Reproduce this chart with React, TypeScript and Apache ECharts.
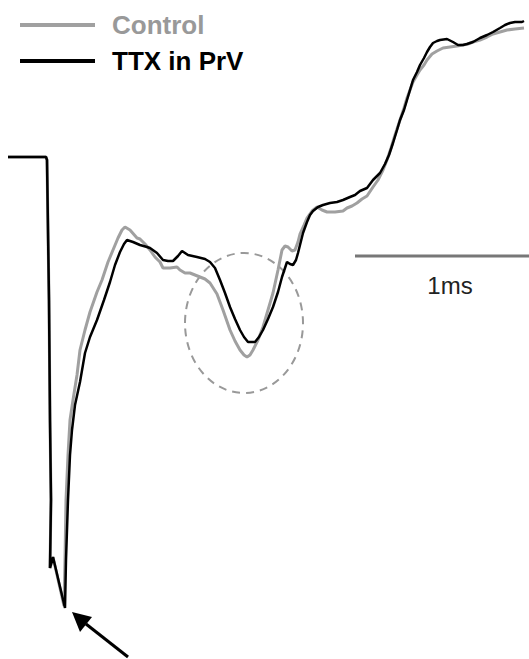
import React, { useEffect, useRef } from "react";
import * as echarts from "echarts";

// Trace samples: [time (px units), potential (px units, downward positive)]
const controlTrace: [number, number][] = [
  [8,157],[46,157],[47,160],[49,300],[50,420],[51,500],[50,568],[53,557],[64,606],[65,560],[66,500],[68,455],[70,420],[73,400],[77,375],[80,350],[85,330],[90,312],[97,292],[102,280],[108,262],[113,250],[118,238],[122,230],[125,227],[130,230],[137,238],[140,239],[145,244],[150,250],[155,257],[160,262],[163,268],[170,268],[177,267],[180,270],[185,273],[190,273],[195,275],[200,277],[205,279],[210,283],[217,294],[223,310],[230,330],[235,341],[240,350],[244,355],[247,357],[250,355],[253,350],[258,340],[263,327],[268,310],[273,293],[278,270],[282,250],[285,246],[288,247],[292,251],[295,250],[298,242],[300,234],[304,225],[307,218],[312,211],[317,207],[322,210],[327,212],[335,212],[343,211],[347,208],[352,206],[357,203],[362,199],[367,196],[373,187],[378,180],[383,170],[387,160],[391,148],[395,135],[400,120],[404,108],[407,98],[410,90],[413,82],[417,75],[420,70],[424,65],[427,60],[432,54],[437,51],[443,48],[450,47],[457,46],[463,45],[468,44],[473,42],[480,40],[487,37],[493,34],[500,32],[507,30],[515,29],[524,28]
];

const ttxTrace: [number, number][] = [
  [8,157],[46,157],[47,160],[49,300],[50,420],[51,500],[50,568],[53,557],[65,608],[66,560],[68,500],[70,455],[72,430],[75,405],[80,382],[85,353],[90,337],[97,320],[104,300],[110,282],[115,265],[120,252],[124,244],[127,240],[133,242],[140,245],[147,247],[150,248],[157,253],[163,260],[168,261],[173,261],[178,256],[182,251],[188,255],[197,257],[205,259],[210,262],[215,268],[220,280],[225,293],[230,307],[235,319],[240,330],[244,337],[248,342],[255,342],[259,337],[263,330],[268,319],[273,307],[278,292],[282,277],[287,262],[290,264],[293,265],[296,260],[298,253],[300,245],[303,233],[307,222],[310,215],[313,211],[318,207],[323,205],[330,203],[337,202],[343,200],[350,197],[355,195],[360,191],[367,188],[373,180],[377,176],[380,173],[385,164],[389,155],[393,143],[397,130],[400,120],[404,110],[407,100],[410,90],[413,80],[417,72],[420,65],[424,58],[427,52],[430,47],[433,43],[437,41],[440,40],[447,39],[453,42],[458,45],[463,45],[467,44],[473,42],[480,38],[487,35],[493,32],[500,28],[505,25],[510,23],[515,22],[522,22],[524,21]
];

const seriesNames = ["Control", "TTX in PrV"];
const seriesColors = ["#a0a0a0", "#000000"];
const scaleBarLabel = "1ms";

export default function App() {
  const ref = useRef<HTMLDivElement>(null);
  useEffect(() => {
    document.body.style.margin = "0";
    if (!ref.current) return;
    const chart = echarts.init(ref.current, undefined, { renderer: "svg" });
    chart.setOption({
      animation: false,
      backgroundColor: "#ffffff",
      grid: { left: 0, right: 0, top: 0, bottom: 0, containLabel: false },
      xAxis: { type: "value", min: 0, max: 529, show: false },
      yAxis: { type: "value", min: 0, max: 659, inverse: true, show: false },
      legend: {
        orient: "vertical",
        left: 15,
        top: 6,
        itemWidth: 75,
        itemHeight: 4,
        itemGap: 8,
        icon: "rect",
        textStyle: {
          fontSize: 26,
          fontWeight: "bold",
          fontFamily: "Liberation Sans, Arial, sans-serif",
          lineHeight: 28,
          padding: [0, 0, 0, 12],
        },
        data: [
          { name: seriesNames[0], textStyle: { color: "#999999" } },
          { name: seriesNames[1], textStyle: { color: "#000000" } },
        ],
      },
      series: [
        {
          name: seriesNames[0],
          type: "line",
          data: controlTrace,
          showSymbol: false,
          symbol: "none",
          color: seriesColors[0],
          lineStyle: { width: 3, color: seriesColors[0] },
          z: 1,
        },
        {
          name: seriesNames[1],
          type: "line",
          data: ttxTrace,
          showSymbol: false,
          symbol: "none",
          color: seriesColors[1],
          lineStyle: { width: 2.5, color: seriesColors[1] },
          z: 2,
        },
      ],
      graphic: [
        {
          type: "ellipse",
          shape: { cx: 244, cy: 323, rx: 59, ry: 70 },
          style: { fill: "none", stroke: "#999999", lineWidth: 2, lineDash: [8, 6] },
          z: 0,
        },
        {
          type: "line",
          shape: { x1: 355, y1: 256, x2: 529, y2: 256 },
          style: { stroke: "#777777", lineWidth: 3 },
        },
        {
          type: "text",
          x: 450,
          y: 285,
          style: {
            text: scaleBarLabel,
            fontSize: 24,
            fontFamily: "Liberation Sans, Arial, sans-serif",
            fill: "#222222",
            align: "center",
            verticalAlign: "middle",
          },
        },
        {
          type: "line",
          shape: { x1: 86, y1: 624, x2: 128, y2: 657 },
          style: { stroke: "#000000", lineWidth: 3 },
        },
        {
          type: "polygon",
          shape: { points: [[72, 612], [80, 632], [92, 617]] },
          style: { fill: "#000000" },
        },
      ],
    });
    return () => chart.dispose();
  }, []);
  return <div ref={ref} style={{ width: 529, height: 659 }} />;
}
